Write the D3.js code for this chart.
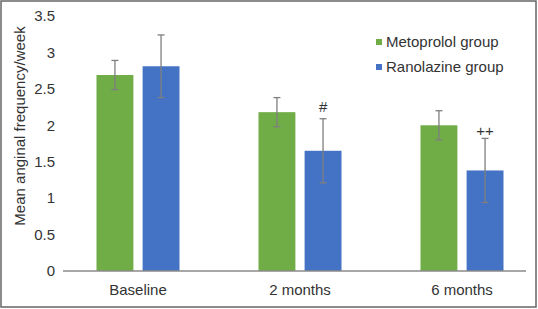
<!DOCTYPE html>
<html><head><meta charset="utf-8">
<script src="https://cdn.jsdelivr.net/npm/d3@7"></script>
<style>body{margin:0;background:#fff}svg{display:block;font-family:"Liberation Sans",Arial,sans-serif}</style>
</head><body>
<svg id="c" width="538" height="309"></svg>
<script>
const categories = ["Baseline", "2 months", "6 months"];
const seriesNames = ["Metoprolol group", "Ranolazine group"];
const metoprolol = [2.69, 2.18, 2.0];
const ranolazine = [2.81, 1.65, 1.38];
const metoprololErr = [0.2, 0.2, 0.2];
const ranolazineErr = [0.43, 0.44, 0.44];
const annotations = ["", "#", "++"];
const yTicks = [0, 0.5, 1, 1.5, 2, 2.5, 3, 3.5];
const colors = ["#70AD47", "#4472C4"];

const svg = d3.select("#c");
const textColor = "#333";
const fs = "15px";

svg.append("rect").attr("x",1).attr("y",1).attr("width",535).attr("height",306)
  .attr("fill","none").attr("stroke","#666").attr("stroke-width",1.5);

const y = d3.scaleLinear().domain([0,3.5]).range([271,16]);
const x = d3.scaleBand().domain(categories).range([57,543]).paddingInner(0).paddingOuter(0);
const x1 = d3.scaleBand().domain(seriesNames).range([0,83]).paddingInner(0.2);

// y tick labels
const yAxis = d3.axisLeft(y).tickValues(yTicks).tickSize(0).tickPadding(0).tickFormat(d3.format("~g"));
const ya = svg.append("g").attr("transform","translate(55,0)").call(yAxis);
ya.select(".domain").remove();
ya.selectAll("text").attr("fill",textColor).style("font-size",fs).style("font-family","'Liberation Sans',Arial,sans-serif");

// x axis
const xAxis = d3.axisBottom(x).tickSize(0).tickPadding(13);
const xa = svg.append("g").attr("transform",`translate(0,${y(0)})`).call(xAxis);
xa.select(".domain").remove();
xa.selectAll("text").attr("fill",textColor).style("font-size",fs).style("font-family","'Liberation Sans',Arial,sans-serif");

const data = [metoprolol, ranolazine];
const errs = [metoprololErr, ranolazineErr];
const groupOffset = (x.bandwidth()-83)/2;

seriesNames.forEach((s,si)=>{
  const g = svg.append("g");
  g.selectAll("rect").data(categories).join("rect")
    .attr("x", c => x(c)+groupOffset+x1(s))
    .attr("width", x1.bandwidth())
    .attr("y", (c,i) => y(data[si][i]))
    .attr("height", (c,i) => y(0)-y(data[si][i]))
    .attr("fill", colors[si]);
});

svg.append("line").attr("x1",63).attr("x2",526).attr("y1",y(0)).attr("y2",y(0))
  .attr("stroke","#8a8a8a").attr("stroke-width",1.5);

seriesNames.forEach((s,si)=>{
  const g = svg.append("g").attr("stroke","#7f7f7f").attr("stroke-width",1.3);
  categories.forEach((c,i)=>{
    const cx = x(c)+groupOffset+x1(s)+x1.bandwidth()/2;
    const v = data[si][i], e = errs[si][i];
    g.append("line").attr("x1",cx).attr("x2",cx).attr("y1",y(v+e)).attr("y2",y(v-e));
    g.append("line").attr("x1",cx-3.5).attr("x2",cx+3.5).attr("y1",y(v+e)).attr("y2",y(v+e));
    g.append("line").attr("x1",cx-3.5).attr("x2",cx+3.5).attr("y1",y(v-e)).attr("y2",y(v-e));
  });
});

// annotations above ranolazine error bars
categories.forEach((c,i)=>{
  if(!annotations[i]) return;
  const cx = x(c)+groupOffset+x1(seriesNames[1])+x1.bandwidth()/2;
  const top = y(ranolazine[i]+ranolazineErr[i]);
  const off = annotations[i] === "#" ? 7 : 2;
  svg.append("text").attr("x",cx).attr("y",top-off)
    .attr("text-anchor","middle").attr("fill",textColor).style("font-size",fs).text(annotations[i]);
});

// y title
svg.append("text").attr("transform","translate(25,126) rotate(-90)")
  .attr("text-anchor","middle").attr("fill",textColor).style("font-size",fs)
  .text("Mean anginal frequency/week");

// legend
const leg = svg.append("g");
seriesNames.forEach((s,i)=>{
  const ly = 42 + i*25;
  leg.append("rect").attr("x",376).attr("y",ly-3).attr("width",6).attr("height",6).attr("fill",colors[i]);
  leg.append("text").attr("x",386).attr("y",ly).attr("dy","0.35em").attr("fill",textColor)
    .style("font-size",fs).text(s);
});
</script>
</body></html>
